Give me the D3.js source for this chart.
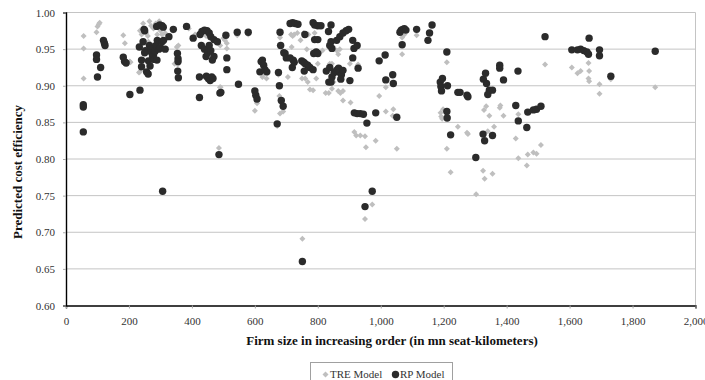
<!DOCTYPE html>
<html><head><meta charset="utf-8">
<script src="https://cdn.jsdelivr.net/npm/d3@7/dist/d3.min.js"></script>
<style>body{margin:0;background:#fff}svg{display:block}</style>
</head><body><div id="c"></div>
<script>
const xTicks = [0,200,400,600,800,1000,1200,1400,1600,1800,2000];
const yTicks = [0.60,0.65,0.70,0.75,0.80,0.85,0.90,0.95,1.00];
const seriesNames = ["TRE Model","RP Model"];

const treData = [
[56,.968],[56,.951],[56,.910],
[97,.973],[100,.981],[104,.984],[107,.986],
[182,.969],[187,.958],[203,.933],[205,.932],
[232,.918],[235,.975],[235,.919],[240,.970],[245,.985],[250,.978],[255,.972],[260,.968],[265,.988],[270,.982],[278,.978],[285,.985],[290,.970],[296,.988],[300,.975],[305,.970],[310,.978],[315,.972],[262,.960],[275,.955],
[340,.975],[352,.953],[355,.929],[357,.955],[345,.930],
[390,.978],[410,.970],[430,.972],[445,.968],[460,.965],[475,.960],[490,.955],[500,.965],[505,.962],[511,.958],[511,.951],
[489,.898],[486,.815],[491,.898],
[544,.969],[579,.970],
[600,.866],[607,.876],[606,.878],[624,.912],[627,.915],[637,.910],[640,.917],
[671,.845],[678,.955],[680,.966],[678,.886],[680,.862],[690,.865],[705,.912],[675,.915],
[715,.970],[717,.953],[720,.968],[725,.970],[735,.972],[745,.962],[755,.972],[770,.970],[765,.950],
[750,.910],[760,.910],[768,.905],[775,.895],[785,.894],[790,.972],[795,.910],[800,.930],
[751,.691],
[805,.945],[815,.948],[825,.890],[835,.890],[838,.930],[845,.896],[845,.930],[850,.905],[860,.948],[865,.943],[870,.950],[865,.893],[872,.890],[880,.893],[880,.880],
[902,.930],[904,.877],[928,.929],
[916,.837],[922,.832],[935,.832],[950,.831],[953,.816],[950,.718],[973,.738],
[984,.825],[995,.886],[1016,.898],[1016,.865],[1038,.859],[1040,.868],[1051,.814],
[1068,.966],[1068,.943],[1075,.970],[1114,.969],[1155,.971],
[1190,.863],[1192,.858],[1195,.855],[1198,.868],[1210,.932],[1210,.814],[1222,.782],[1245,.844],[1274,.836],[1277,.834],[1303,.752],
[1325,.784],[1330,.773],[1355,.780],[1328,.867],[1335,.872],[1345,.859],[1360,.844],[1340,.838],
[1378,.870],[1380,.873],[1390,.859],
[1429,.828],[1437,.861],[1437,.801],[1464,.791],[1467,.806],[1485,.809],[1495,.807],[1509,.819],
[1522,.929],
[1607,.925],[1625,.917],[1635,.920],[1660,.931],[1662,.920],[1660,.910],[1662,.906],
[1695,.902],[1695,.889],[1731,.909],[1872,.898]
];

const rpData = [
[55,.874],[55,.871],[55,.837],
[97,.942],[97,.936],[100,.912],[110,.925],[119,.962],[122,.958],[124,.955],
[182,.939],[186,.933],[191,.931],[203,.888],
[233,.953],[235,.894],[240,.935],[240,.926],[248,.977],[250,.975],[252,.948],[256,.919],[261,.916],[245,.960],[250,.945],[262,.934],
[267,.927],[265,.955],[270,.950],[272,.945],[275,.940],[278,.942],[280,.936],[283,.947],[286,.955],[289,.935],[290,.962],[295,.950],[300,.952],[305,.960],[310,.962],[315,.950],[327,.967],
[288,.981],[298,.983],[305,.982],[309,.980],
[307,.756],
[341,.977],[354,.944],[356,.937],[356,.933],[355,.920],[357,.911],
[383,.981],[404,.965],
[424,.884],[424,.912],[426,.970],[432,.974],[440,.976],[448,.975],[455,.972],[460,.967],[470,.963],[481,.960],
[430,.955],[440,.950],[445,.940],[450,.945],[455,.955],[460,.948],[465,.935],[470,.940],
[446,.913],[452,.910],[458,.907],[463,.912],[467,.910],
[486,.806],[489,.890],[492,.891],[508,.969],[511,.938],[511,.922],
[544,.973],[548,.902],[579,.973],
[600,.893],[603,.887],[607,.882],[616,.919],
[620,.933],[624,.935],[628,.928],[632,.922],[638,.919],
[671,.848],[680,.973],[682,.955],[675,.918],[678,.900],[684,.880],[690,.872],[692,.945],
[696,.944],[700,.938],[712,.938],[719,.925],[722,.935],[725,.932],
[712,.985],[720,.986],[728,.985],[737,.984],[759,.970],
[749,.934],[755,.932],[760,.930],[768,.928],[775,.925],[785,.922],[757,.920],
[751,.660],
[785,.986],[790,.983],[800,.982],[810,.982],[842,.983],[834,.974],
[790,.963],[800,.963],[787,.944],[795,.946],[800,.944],
[838,.955],[842,.960],[845,.951],[860,.962],[870,.967],[880,.972],[890,.975],[898,.977],
[827,.920],[835,.905],[838,.925],[842,.905],[845,.912],[852,.918],[858,.920],[862,.922],[866,.924],[870,.918],[875,.915],[880,.921],[873,.909],[902,.907],
[911,.962],[915,.951],[925,.955],[911,.938],[928,.924],
[916,.863],[925,.862],[935,.862],[945,.861],[956,.849],
[950,.735],[973,.756],
[984,.863],[995,.934],[1014,.942],[1016,.908],[1038,.915],[1040,.903],[1051,.857],
[1061,.973],[1065,.976],[1070,.977],[1075,.978],[1080,.976],[1068,.956],
[1114,.977],[1150,.962],[1155,.972],[1163,.983],
[1189,.905],[1191,.899],[1193,.893],[1196,.910],[1210,.946],[1212,.900],[1210,.865],[1211,.856],[1222,.833],
[1245,.891],[1274,.887],[1252,.891],[1277,.885],[1302,.802],
[1326,.909],[1333,.917],[1336,.903],[1345,.894],[1340,.888],[1355,.894],
[1378,.928],[1378,.924],[1390,.908],
[1325,.834],[1330,.825],[1355,.832],
[1436,.920],[1429,.873],[1437,.852],[1464,.843],[1467,.864],[1485,.867],[1495,.868],[1509,.872],
[1522,.967],
[1607,.949],[1625,.949],[1635,.950],[1645,.948],[1655,.946],[1660,.943],[1662,.965],
[1695,.949],[1695,.941],[1731,.913],[1872,.947]
];

const W = 705, H = 380;
const L = 66, R = 695.5, T = 12.5, B = 305.5;
const FONT = "'Liberation Serif','DejaVu Serif',serif";
const grey = "#bfbfbf", dark = "#2b2b2b";

const svg = d3.select("#c").append("svg").attr("width", W).attr("height", H)
  .style("font-family", FONT);

const x = d3.scaleLinear().domain([0, 2000]).range([L, R]);
const y = d3.scaleLinear().domain([0.6, 1.0]).range([B, T]);

// gridlines
svg.append("g").selectAll("line").data(yTicks.slice(1)).join("line")
  .attr("x1", L).attr("x2", R).attr("y1", d => y(d)).attr("y2", d => y(d))
  .attr("stroke", "#c4c4c4").attr("stroke-width", 1);
// right border
svg.append("line").attr("x1", R).attr("x2", R).attr("y1", T).attr("y2", B)
  .attr("stroke", "#c4c4c4");

// axes
const xAxis = svg.append("g").attr("transform", `translate(0,${B})`)
  .call(d3.axisBottom(x).tickValues(xTicks).tickFormat(d3.format(",")).tickSize(3).tickPadding(7));
const yAxis = svg.append("g").attr("transform", `translate(${L},0)`)
  .call(d3.axisLeft(y).tickValues(yTicks).tickFormat(d3.format(".2f")).tickSize(3).tickPadding(8));
[xAxis, yAxis].forEach(g => {
  g.select(".domain").attr("stroke", "#000").attr("stroke-width", 1.4);
  g.selectAll(".tick line").attr("stroke", "#aaa");
  g.selectAll(".tick text").attr("fill", "#333").style("font-size", "11px").style("font-family", FONT);
});
xAxis.selectAll(".tick text").attr("dy", "0.9em");

// series
const diamond = d3.symbol(d3.symbolSquare, 18)();
svg.append("g").selectAll("path").data(treData).join("path")
  .attr("d", diamond)
  .attr("transform", d => `translate(${x(d[0])},${y(d[1])}) rotate(45)`)
  .attr("fill", grey);
svg.append("g").selectAll("circle").data(rpData).join("circle")
  .attr("cx", d => x(d[0])).attr("cy", d => y(d[1])).attr("r", 3.7)
  .attr("fill", dark);

// titles
svg.append("text").attr("x", 392).attr("y", 345).attr("text-anchor", "middle")
  .style("font-size", "13px").style("font-weight", "bold").attr("fill", "#111")
  .text("Firm size in increasing order (in mn seat-kilometers)");
svg.append("text").attr("transform", "translate(22,172) rotate(-90)").attr("text-anchor", "middle")
  .style("font-size", "13px").style("font-weight", "bold").attr("fill", "#111")
  .text("Predicted cost efficiency");

// legend
const lg = svg.append("g");
lg.append("rect").attr("x", 310.5).attr("y", 362.5).attr("width", 142).attr("height", 22)
  .attr("fill", "#fff").attr("stroke", "#a0a0a0");
lg.append("path").attr("d", diamond).attr("transform", "translate(325.5,374.5) rotate(45)").attr("fill", grey);
lg.append("text").attr("x", 330).attr("y", 378).style("font-size", "11px").attr("fill", "#333").text(seriesNames[0]);
lg.append("circle").attr("cx", 395.5).attr("cy", 374.5).attr("r", 3.7).attr("fill", dark);
lg.append("text").attr("x", 400).attr("y", 378).style("font-size", "11px").attr("fill", "#333").text(seriesNames[1]);
</script></body></html>
